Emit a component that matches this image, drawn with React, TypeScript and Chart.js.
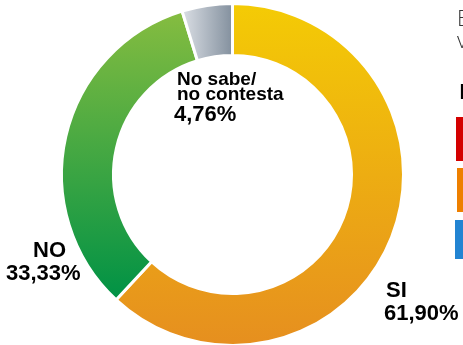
import React, { useEffect, useRef } from "react";
import { Chart, registerables } from "chart.js";

Chart.register(...registerables);

// ---- data ----
const categories = ["SI", "NO", "No sabe/ no contesta"];
const values = [61.9, 33.33, 4.76];
const valueLabels = ["61,90%", "33,33%", "4,76%"];
const nameLines = [["SI"], ["NO"], ["No sabe/", "no contesta"]];

// ---- style ----
const RADIUS = 171;
const CUTOUT = "69.6%";
const LABEL_POS = [
  { x: 386, nameY: [297], valueX: 384, valueY: 320, nameFont: 22 },
  { x: 33, nameY: [257], valueX: 6, valueY: 280, nameFont: 22 },
  { x: 177, nameY: [85, 100], valueX: 174, valueY: 121, nameFont: 19 },
];

function makeFill(ctx: any) {
  const chart = ctx.chart;
  const area = chart.chartArea;
  if (!area) return "#ccc";
  const c = chart.ctx as CanvasRenderingContext2D;
  const cx = (area.left + area.right) / 2;
  const cy = (area.top + area.bottom) / 2;
  const i = ctx.dataIndex;
  if (i === 0) {
    const g = c.createLinearGradient(0, cy - 170, 0, cy + 170);
    g.addColorStop(0, "#F4CB05");
    g.addColorStop(1, "#E68F1F");
    return g;
  }
  if (i === 1) {
    const g = c.createLinearGradient(0, cy - 160, 0, cy + 125);
    g.addColorStop(0, "#84BC40");
    g.addColorStop(1, "#009245");
    return g;
  }
  const g = c.createLinearGradient(cx - 50, 0, cx, 0);
  g.addColorStop(0, "#DADEE4");
  g.addColorStop(1, "#83909E");
  return g;
}

const labelPlugin = {
  id: "sliceLabels",
  afterDraw(chart: any) {
    const c = chart.ctx as CanvasRenderingContext2D;
    c.save();
    c.fillStyle = "#000";
    c.textAlign = "left";
    c.textBaseline = "alphabetic";
    categories.forEach((_, i) => {
      const p = LABEL_POS[i];
      c.font = `bold ${p.nameFont}px "Liberation Sans", Arial, sans-serif`;
      nameLines[i].forEach((line, k) => c.fillText(line, p.x, p.nameY[k]));
      c.font = `bold 22px "Liberation Sans", Arial, sans-serif`;
      c.fillText(valueLabels[i], p.valueX, p.valueY);
    });
    c.restore();
  },
};

export default function App() {
  const ref = useRef<HTMLCanvasElement>(null);
  useEffect(() => {
    if (!ref.current) return;
    const chart = new Chart(ref.current, {
      type: "doughnut",
      data: {
        labels: categories,
        datasets: [
          {
            data: values,
            backgroundColor: makeFill as any,
            borderColor: "#ffffff",
            borderWidth: 3,
            hoverOffset: 0,
            clip: false as any,
          },
        ],
      },
      options: {
        animation: false,
        responsive: true,
        maintainAspectRatio: false,
        radius: RADIUS,
        cutout: CUTOUT,
        layout: { padding: { left: 2, top: 4, right: 0, bottom: 0 } },
        plugins: { legend: { display: false }, tooltip: { enabled: false } },
      } as any,
      plugins: [labelPlugin],
    });
    return () => chart.destroy();
  }, []);

  return (
    <div style={{ position: "fixed", left: 0, top: 0, width: 463, height: 345, overflow: "hidden", background: "#fff" }}>
      <canvas ref={ref} style={{ position: "absolute", left: 0, top: 0 }} />
      <div style={{ position: "absolute", left: 457, top: 6, font: '300 22px "Open Sans", sans-serif', color: "#333", lineHeight: "22px", whiteSpace: "nowrap" }}>
        <div>E</div>
        <div>v</div>
      </div>
      <div style={{ position: "absolute", left: 459, top: 77, font: 'bold 21px "Open Sans", sans-serif', color: "#000", whiteSpace: "nowrap" }}>I</div>
      <div style={{ position: "absolute", left: 456, top: 117, width: 10, height: 44, background: "#D40000" }} />
      <div style={{ position: "absolute", left: 457, top: 168, width: 10, height: 44, background: "#EE8000" }} />
      <div style={{ position: "absolute", left: 455, top: 220, width: 10, height: 39, background: "#2284D2" }} />
    </div>
  );
}
